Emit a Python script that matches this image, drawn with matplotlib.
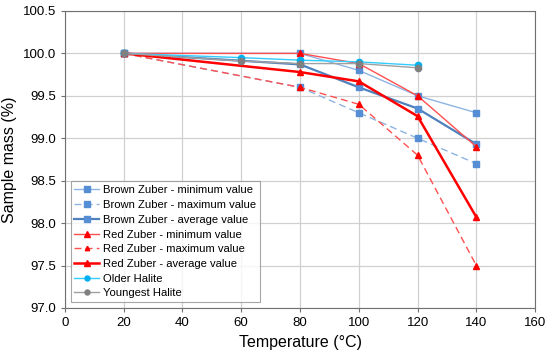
import matplotlib
matplotlib.use("Agg")
import matplotlib.pyplot as plt

plt.rcParams['font.family'] = ['Liberation Sans', 'DejaVu Sans']

temps = [20, 80, 100, 120, 140]
temps_h = [20, 60, 80, 100, 120]
bz_min = [100.0, 100.0, 99.8, 99.5, 99.3]
bz_max = [100.0, 99.6, 99.3, 99.0, 98.7]
bz_avg = [100.0, 99.87, 99.6, 99.35, 98.93]
rz_min = [100.0, 100.0, 99.88, 99.5, 98.9]
rz_max = [100.0, 99.6, 99.4, 98.8, 97.5]
rz_avg = [100.0, 99.78, 99.67, 99.26, 98.07]
older = [100.0, 99.95, 99.92, 99.9, 99.86]
young = [100.0, 99.91, 99.88, 99.88, 99.83]

fig = plt.figure(figsize=(5.5, 3.53), dpi=100)
ax = fig.add_axes([0.118, 0.1275, 0.855, 0.8415])

lb = "#8DB4E2"
mb = "#558ED5"
db = "#4F81BD"
red = "#FF0000"
lred = "#FF5050"

ax.plot(temps, bz_min, color=lb, lw=1.0, marker='s', ms=5, mfc=mb, mec=mb, label="Brown Zuber - minimum value")
ax.plot(temps, bz_max, color=lb, lw=1.0, ls=(0, (5, 3)), marker='s', ms=5, mfc=mb, mec=mb, label="Brown Zuber - maximum value")
ax.plot(temps, bz_avg, color=db, lw=1.6, marker='s', ms=5, mfc=mb, mec=mb, label="Brown Zuber - average value")
ax.plot(temps, rz_min, color=lred, lw=1.0, marker='^', ms=5, mfc=red, mec=red, label="Red Zuber - minimum value")
ax.plot(temps, rz_max, color=lred, lw=1.0, ls=(0, (5, 3)), marker='^', ms=4, mfc=red, mec=red, label="Red Zuber - maximum value")
ax.plot(temps, rz_avg, color=red, lw=1.8, marker='^', ms=5, mfc=red, mec=red, label="Red Zuber - average value")
ax.plot(temps_h, older, color="#33CCFF", lw=1.0, marker='o', ms=4.5, mfc="#00B0F0", mec="#00B0F0", label="Older Halite")
ax.plot(temps_h, young, color="#A0A0A0", lw=1.0, marker='o', ms=4.5, mfc="#808080", mec="#808080", label="Youngest Halite")

ax.set_xlim(0, 160)
ax.set_ylim(97.0, 100.5)
ax.set_xticks(range(0, 161, 20))
ax.set_yticks([97.0 + 0.5 * i for i in range(8)])
ax.set_yticklabels([f"{97.0 + 0.5 * i:.1f}" for i in range(8)])
ax.grid(True, color="#D0D0D0", lw=0.9)
ax.set_axisbelow(True)
for s in ax.spines.values():
    s.set_color("#707070")
ax.tick_params(labelsize=9.5, color="#707070", length=3)
ax.set_xlabel("Temperature (°C)", fontsize=11.5)
ax.set_ylabel("Sample mass (%)", fontsize=11.5)

leg = ax.legend(loc="lower left", fontsize=8.1, frameon=True, fancybox=False,
                edgecolor="#909090", borderpad=0.35, labelspacing=0.42,
                handlelength=2.2, handletextpad=0.3, markerscale=0.8,
                borderaxespad=0.5)
leg.get_frame().set_linewidth(0.8)

fig.savefig("out.png", dpi=100)
